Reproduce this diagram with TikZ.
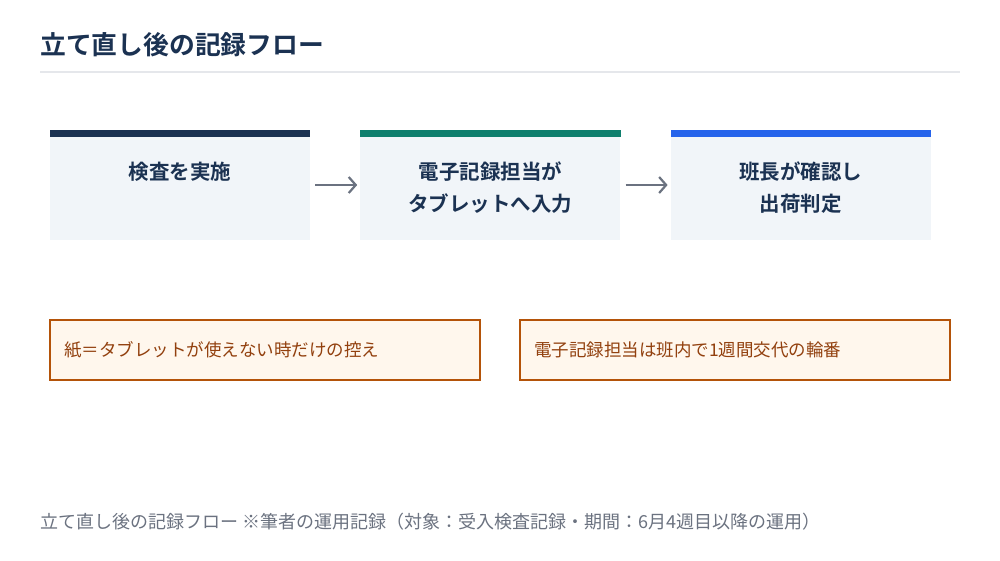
\documentclass[tikz,border=0pt]{standalone}
\usepackage{fontspec}
\setmainfont{Noto Sans CJK JP}[BoldFont={Noto Sans CJK JP Bold}]
\usetikzlibrary{arrows.meta,positioning,calc}

\definecolor{navy}{HTML}{1B3252}
\definecolor{teal}{HTML}{0F7F6E}
\definecolor{blue}{HTML}{2563EB}
\definecolor{stepfill}{HTML}{F1F5F9}
\definecolor{noteline}{HTML}{B45309}
\definecolor{notefill}{HTML}{FFF7ED}
\definecolor{notetext}{HTML}{92400E}
\definecolor{greytext}{HTML}{6B7280}
\definecolor{rulegrey}{HTML}{E5E7EB}

\begin{document}
\begin{tikzpicture}[x=1pt, y=-1pt, node distance=50pt]
    \tikzstyle{stepbox}=[fill=stepfill,draw=none,minimum width=260pt,minimum height=110pt,inner sep=0pt]
    \tikzstyle{steptext}=[text=navy,font=\bfseries\fontsize{20.5}{32}\selectfont,align=center,anchor=north,inner sep=0pt]
    \tikzstyle{notebox}=[fill=notefill,draw=noteline,line width=1.6pt,minimum height=60pt,text width=402pt,inner xsep=14pt,align=left,text=notetext,font=\fontsize{17.5}{20}\selectfont]
    \tikzstyle{flow}=[-{Straight Barb[length=7pt,width=16pt]},draw=greytext,line width=2.2pt,shorten <=5pt,shorten >=3pt]

    \useasboundingbox[fill=white] (0,0) rectangle (1000,560);

    % title
    \node[anchor=west,inner sep=0pt,text=navy,font=\bfseries\fontsize{25.8}{30}\selectfont] (title) at (40,45) {立て直し後の記録フロー};
    \draw[rulegrey,line width=2pt] (40,72) -- (960,72);

    % steps
    \node[stepbox] (inspect) at (180,185) {};
    \node[stepbox] (entry)[right=of inspect] {};
    \node[stepbox] (approve)[right=of entry] {};

    \fill[navy] (inspect.north west) rectangle ($(inspect.north east)+(0,7)$);
    \fill[teal] (entry.north west) rectangle ($(entry.north east)+(0,7)$);
    \fill[blue] (approve.north west) rectangle ($(approve.north east)+(0,7)$);

    \node[steptext] (inspectlabel) at ($(inspect.north)+(0,32)$) {検査を実施};
    \node[steptext] (entrylabel) at ($(entry.north)+(0,32)$) {電子記録担当が\\タブレットへ入力};
    \node[steptext] (approvelabel) at ($(approve.north)+(0,32)$) {班長が確認し\\出荷判定};

    % arrows
    \draw[flow] (inspect) -- (entry);
    \draw[flow] (entry) -- (approve);

    % notes
    \node[notebox] (paper) at (265,350) {紙＝タブレットが使えない時だけの控え};
    \node[notebox] (rota) at (735,350) {電子記録担当は班内で1週間交代の輪番};

    % footer
    \node[anchor=west,inner sep=0pt,text=greytext,font=\fontsize{18}{20}\selectfont] (caption) at (40,522) {立て直し後の記録フロー ※筆者の運用記録（対象：受入検査記録・期間：6月4週目以降の運用）};
\end{tikzpicture}
\end{document}
